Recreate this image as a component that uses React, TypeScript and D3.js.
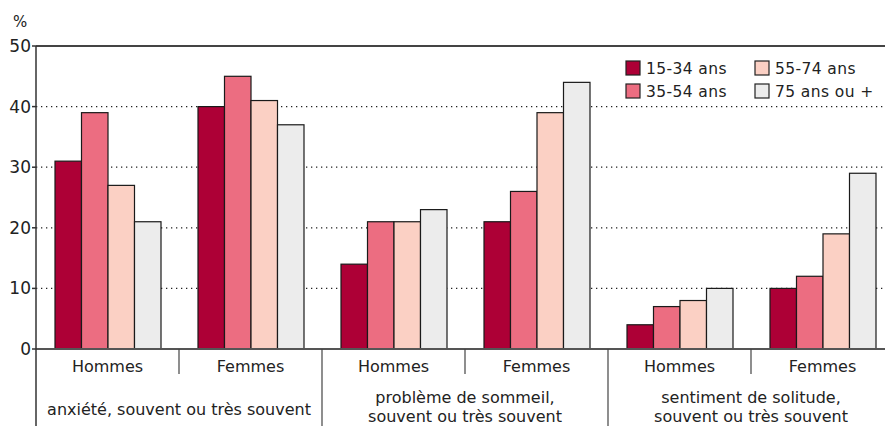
import React from "react";
import * as d3 from "d3";

const groups = ["anxiété, souvent ou très souvent", "problème de sommeil,\nsouvent ou très souvent", "sentiment de solitude,\nsouvent ou très souvent"];
const sexes = ["Hommes", "Femmes"];
const series = ["15-34 ans", "35-54 ans", "55-74 ans", "75 ans ou +"];
const colors = ["#ad0036", "#ec6d81", "#fbd0c4", "#ececec"];
// values per category (Hommes/Femmes for each group) for each age series
const v1534 = [31, 40, 14, 21, 4, 10];
const v3554 = [39, 45, 21, 26, 7, 12];
const v5574 = [27, 41, 21, 39, 8, 19];
const v75 = [21, 37, 23, 44, 10, 29];
const yTicks = [0, 10, 20, 30, 40, 50];

const W = 885, H = 426;
const left = 36, top = 46, bottom = 349;
const bandW = 143;
const font = "'DejaVu Sans', Verdana, sans-serif";

export default function App() {
  const allVals = [v1534, v3554, v5574, v75];
  const y = d3.scaleLinear().domain([0, 50]).range([bottom, top]);
  const cats = d3.range(6);
  const x = d3.scaleBand<number>().domain(cats).range([left, left + bandW * 6]).paddingInner(0).paddingOuter(0);
  const inner = d3.scaleBand<number>().domain(d3.range(4)).range([19, bandW - 18]).padding(0);
  return (
    <div style={{ position: "absolute", left: 0, top: 0, width: W, height: H, overflow: "hidden" }}>
      <svg width={W} height={H} style={{ display: "block", fontFamily: font }}>
        <rect width={W} height={H} fill="#fff" />
        <text x={13} y={27} fontSize={15} fill="#222">%</text>
        {yTicks.map((t) => (
          <g key={t}>
            {t > 0 && t < 50 && (
              <line x1={left} x2={W} y1={y(t)} y2={y(t)} stroke="#222" strokeWidth={1.3} strokeDasharray="1.3,3.7" />
            )}
            <line x1={left - 4} x2={left} y1={y(t)} y2={y(t)} stroke="#333" strokeWidth={1.5} />
            <text x={31} y={y(t) + 6} fontSize={17} textAnchor="end" fill="#222">{t}</text>
          </g>
        ))}
        <line x1={left} x2={W} y1={top} y2={top} stroke="#444" strokeWidth={2} />
        {cats.map((c) =>
          allVals.map((vals, s) => (
            <rect
              key={c + "-" + s}
              x={(x(c) as number) + (inner(s) as number)}
              y={y(vals[c])}
              width={inner.bandwidth()}
              height={bottom - y(vals[c])}
              fill={colors[s]}
              stroke="#1a1a1a"
              strokeWidth={1.2}
            />
          ))
        )}
        <line x1={left} x2={W} y1={bottom} y2={bottom} stroke="#555" strokeWidth={2} />
        <line x1={left} x2={left} y1={top} y2={H} stroke="#333" strokeWidth={1.5} />
        {cats.map((c) => (
          <g key={"l" + c}>
            <text x={(x(c) as number) + bandW / 2} y={372} fontSize={16} textAnchor="middle" fill="#222">{sexes[c % 2]}</text>
            {c > 0 && (
              <line x1={x(c) as number} x2={x(c) as number} y1={bottom} y2={c % 2 === 0 ? H : 374} stroke="#444" strokeWidth={1.2} />
            )}
          </g>
        ))}
        {groups.map((g, i) => {
          const lines = g.split("\n");
          const cx = (x(i * 2) as number) + bandW;
          return lines.map((ln, k) => (
            <text key={g + k} x={cx} y={lines.length === 1 ? 415 : 403 + k * 18.5} fontSize={16} textAnchor="middle" fill="#222">{ln}</text>
          ));
        })}
        {series.map((s, i) => {
          const lx = i < 2 ? 626 : 755;
          const ly = i % 2 === 0 ? 61 : 84;
          return (
            <g key={s}>
              <rect x={lx} y={ly} width={14} height={14} fill={colors[i]} stroke="#222" strokeWidth={1.2} />
              <text x={lx + 20} y={ly + 13} fontSize={15.5} fill="#222" letterSpacing={0.4}>{s}</text>
            </g>
          );
        })}
      </svg>
    </div>
  );
}
